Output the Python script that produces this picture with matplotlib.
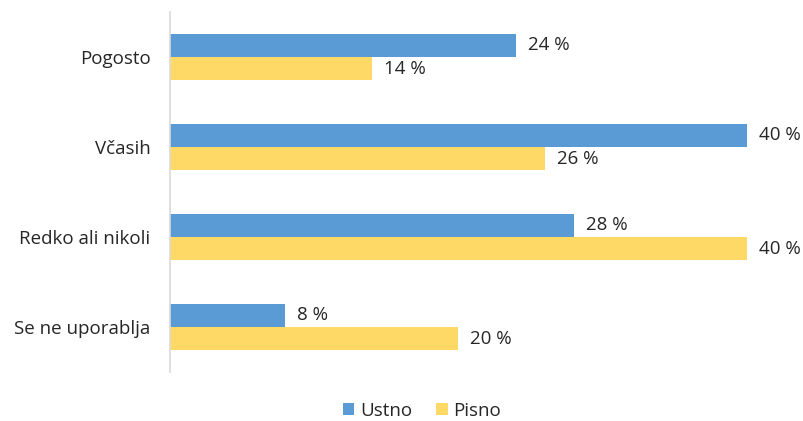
import matplotlib
matplotlib.use("Agg")
import matplotlib.pyplot as plt
import numpy as np

plt.rcParams['font.family'] = ['Open Sans', 'DejaVu Sans']

categories = ["Pogosto", "Včasih", "Redko ali nikoli", "Se ne uporablja"]
ustno = [24, 40, 28, 8]
pisno = [14, 26, 40, 20]
series_names = ["Ustno", "Pisno"]
colors = ["#5B9BD5", "#FFD966"]
text_color = "#262626"
fs = 13.5

fig = plt.figure(figsize=(8.04, 4.21), dpi=100)
ax = fig.add_axes([170/804, 1-372/421, (747-170)/804, (372-12)/421])

y = np.arange(len(categories))
h = 23/90
b1 = ax.barh(y - h/2, ustno, height=h, color=colors[0], label=series_names[0])
b2 = ax.barh(y + h/2, pisno, height=h, color=colors[1], label=series_names[1])

for bars, vals in ((b1, ustno), (b2, pisno)):
    for bar, v in zip(bars, vals):
        ax.annotate(f"{v} %", (bar.get_width(), bar.get_y() + bar.get_height()/2),
                    xytext=(8.5, 0), textcoords="offset points", va="center", ha="left",
                    fontsize=fs, color=text_color)

ax.set_xlim(0, 40)
ax.set_ylim(len(categories) - 0.5, -0.5)
ax.set_yticks(y)
ax.set_yticklabels(categories, fontsize=fs, color=text_color)
ax.set_xticks([])
ax.tick_params(axis='y', length=0, pad=14)
for s in ["top", "right", "bottom"]:
    ax.spines[s].set_visible(False)
ax.spines["left"].set_color("#D9D9D9")
ax.spines["left"].set_linewidth(1.2)

fig.legend(handles=[b1, b2], labels=series_names, loc="center", bbox_to_anchor=(422/804, 1-411/421),
           ncol=2, frameon=False, fontsize=fs, handlelength=0.6, handleheight=0.6,
           handletextpad=0.3, columnspacing=1.3, labelcolor=text_color)

fig.savefig("out.png", dpi=100)
